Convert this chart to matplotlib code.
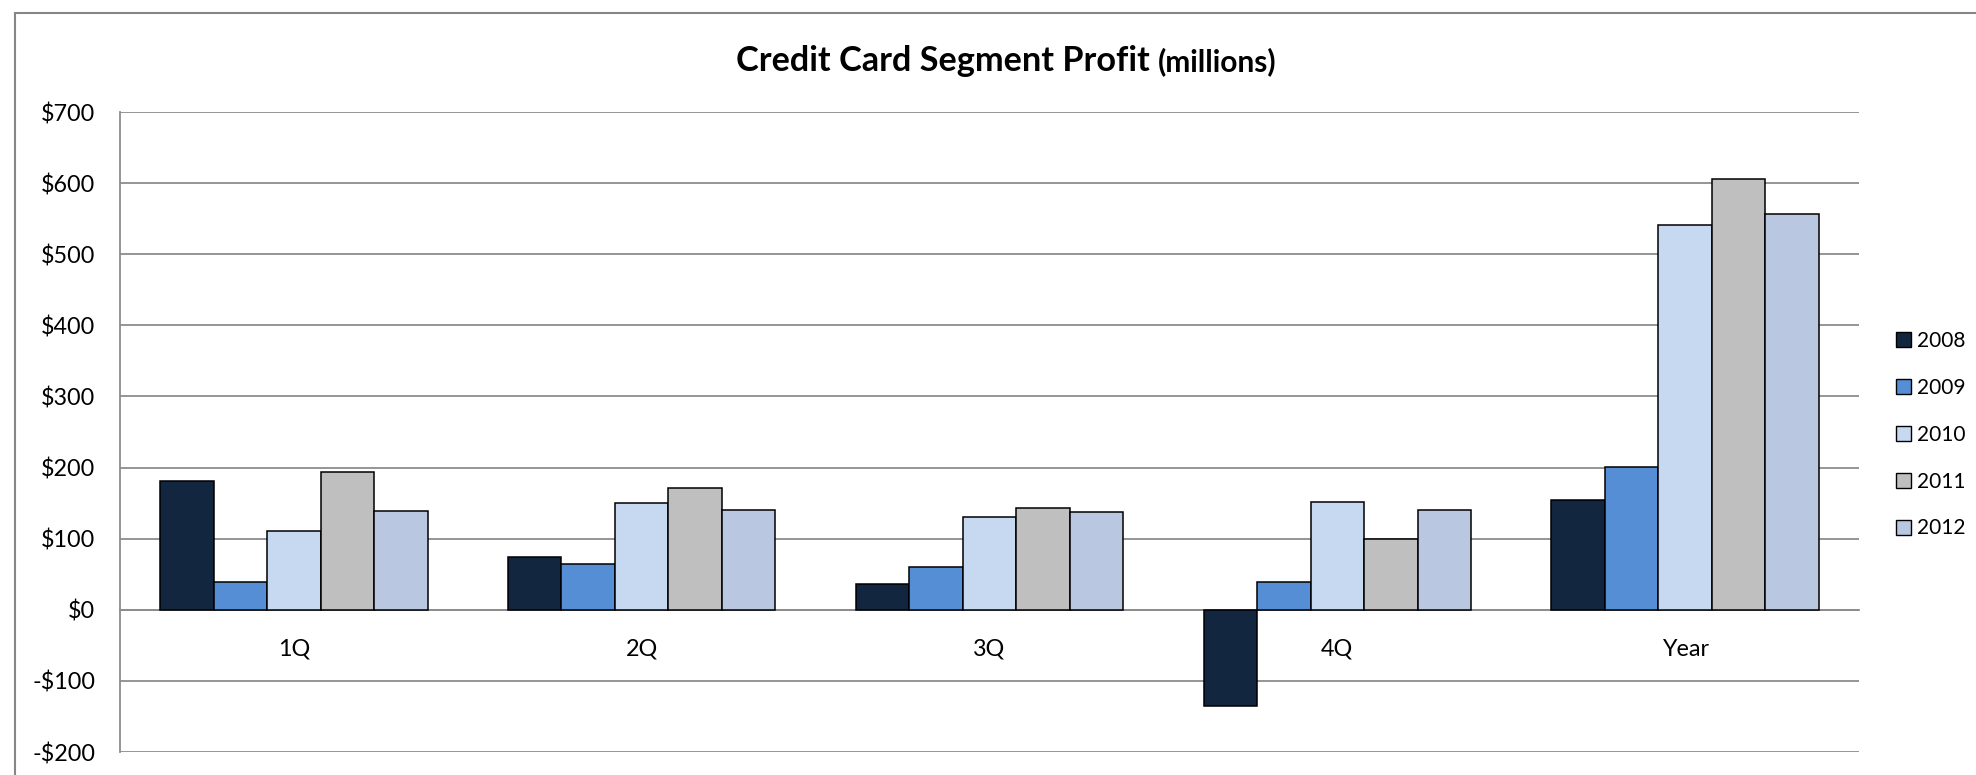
import matplotlib
matplotlib.use("Agg")
import matplotlib.pyplot as plt
from matplotlib.patches import Rectangle, Patch
import numpy as np

categories = ["1Q", "2Q", "3Q", "4Q", "Year"]
years = ["2008", "2009", "2010", "2011", "2012"]
v2008 = [181, 74, 36, -135, 155]
v2009 = [39, 64, 60, 39, 201]
v2010 = [111, 150, 130, 151, 541]
v2011 = [194, 171, 143, 99, 606]
v2012 = [139, 140, 138, 141, 557]
series = [v2008, v2009, v2010, v2011, v2012]
colors = ["#13263f", "#558ed5", "#c6d9f0", "#bfbfbf", "#b9c7e0"]
yticks = [-200, -100, 0, 100, 200, 300, 400, 500, 600, 700]

W, H = 1976, 775
plt.rcParams['font.family'] = ['Lato', 'DejaVu Sans']
fig = plt.figure(figsize=(W / 100, H / 100), dpi=100)

# outer chart frame (cut off at right/bottom)
fig.add_artist(Rectangle((15 / W, -0.05), 1.2, (H - 13) / H + 0.05,
                         transform=fig.transFigure, fill=False,
                         edgecolor="#868686", linewidth=1.5))

ax = fig.add_axes([120 / W, (H - 752) / H, (1859 - 120) / W, (752 - 112) / H])

n = len(series)
bw = 1 / 6.5
x = np.arange(len(categories))
for i, (vals, c) in enumerate(zip(series, colors)):
    ax.bar(x + (i - (n - 1) / 2) * bw, vals, width=bw, color=c,
           edgecolor="black", linewidth=1.1, zorder=3, label=years[i])

ax.set_xlim(-0.5, len(categories) - 0.5)
ax.set_ylim(-200, 700)
ax.set_yticks(yticks)
ax.set_yticklabels([("-$%d" % -v) if v < 0 else ("$%d" % v) for v in yticks])
ax.yaxis.grid(True, color="#8c8c8c", linewidth=1.3, zorder=0)
ax.set_axisbelow(True)

ax.spines['top'].set_visible(False)
ax.spines['right'].set_visible(False)
ax.spines['left'].set_color("#8c8c8c")
ax.spines['left'].set_linewidth(1.3)
ax.spines['bottom'].set_position(('data', 0))
ax.spines['bottom'].set_color("#8c8c8c")
ax.spines['bottom'].set_linewidth(1.3)

ax.set_xticks(x)
ax.set_xticklabels(categories)
ax.tick_params(axis='x', length=0, pad=21, labelsize=16.8)
ax.tick_params(axis='y', length=0, pad=18, labelsize=16.8)

# legend
handles = [Patch(facecolor=c, edgecolor="black", linewidth=1.0) for c in colors]
leg = fig.legend(handles, years, loc="upper left",
                 bbox_to_anchor=(1896 / W, 1 - 331 / H), frameon=False,
                 fontsize=15, handlelength=0.72, handleheight=0.72,
                 handletextpad=0.3, labelspacing=1.29, borderaxespad=0,
                 borderpad=0)

# title in two parts
t1 = fig.text(736 / W, (H - 71) / H, "Credit Card Segment Profit",
              fontsize=24.7, fontweight="bold", ha="left", va="baseline")
fig.canvas.draw()
bb = t1.get_window_extent()
fig.text((bb.x1 + 8) / W, (H - 71) / H, "(millions)",
         fontsize=21.5, fontweight="bold", ha="left", va="baseline")

fig.savefig("out.png", dpi=100)
